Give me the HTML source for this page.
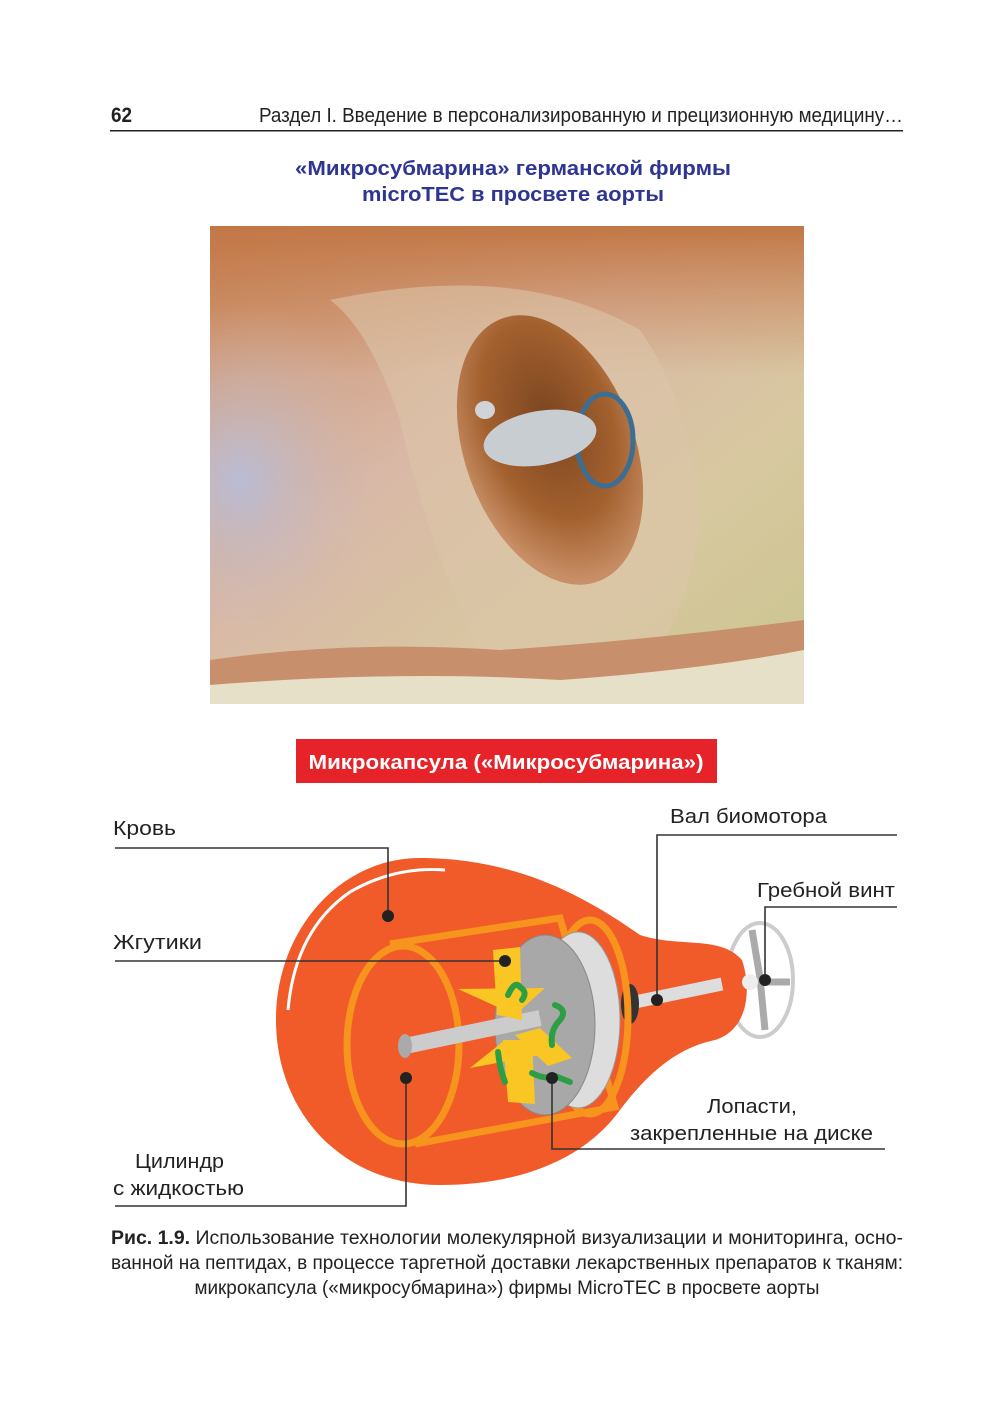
<!DOCTYPE html>
<html><head><meta charset="utf-8"><style>
html,body{margin:0;padding:0;background:#fff}
svg{display:block}
text{font-family:"Liberation Sans",sans-serif}
</style></head><body>
<svg width="1000" height="1420" viewBox="0 0 1000 1420" xmlns="http://www.w3.org/2000/svg">
<defs>
<linearGradient id="bg" x1="0" y1="0" x2="1" y2="1">
<stop offset="0" stop-color="#c98860"/><stop offset="0.4" stop-color="#d9b8a6"/><stop offset="0.7" stop-color="#d8c8a0"/><stop offset="1" stop-color="#c9c48e"/>
</linearGradient>
<linearGradient id="top" x1="0" y1="0" x2="0" y2="1">
<stop offset="0" stop-color="#c27745"/><stop offset="1" stop-color="#c9875a" stop-opacity="0"/>
</linearGradient>
<radialGradient id="left" cx="0.1" cy="0.5" r="0.5">
<stop offset="0" stop-color="#b9bcd6"/><stop offset="1" stop-color="#d4b8aa" stop-opacity="0"/>
</radialGradient>
<radialGradient id="hole" cx="0.55" cy="0.4" r="0.6">
<stop offset="0" stop-color="#7a4520"/><stop offset="0.6" stop-color="#a3602e"/><stop offset="1" stop-color="#c99068"/>
</radialGradient>
</defs>

<!-- header -->
<text x="111" y="122" font-size="21" font-weight="bold" fill="#222" textLength="21" lengthAdjust="spacingAndGlyphs">62</text>
<text x="259" y="122" font-size="20" fill="#222" textLength="644" lengthAdjust="spacingAndGlyphs">Раздел I. Введение в персонализированную и прецизионную медицину…</text>
<rect x="110" y="130" width="793" height="1.5" fill="#222"/>

<text x="513" y="175" font-size="20" font-weight="bold" fill="#2e3592" text-anchor="middle" textLength="436" lengthAdjust="spacingAndGlyphs">«Микросубмарина» германской фирмы</text>
<text x="513" y="201" font-size="20" font-weight="bold" fill="#2e3592" text-anchor="middle" textLength="302" lengthAdjust="spacingAndGlyphs">microTEC в просвете аорты</text>

<!-- photo -->
<g>
<rect x="210" y="226" width="594" height="478" fill="url(#bg)"/>
<rect x="210" y="226" width="594" height="150" fill="url(#top)"/>
<rect x="210" y="300" width="300" height="360" fill="url(#left)"/>
<path d="M330 300 Q520 260 640 330 Q690 400 700 520 Q690 620 630 690 L500 690 Q430 560 400 420 Q370 330 330 300Z" fill="#dcc4a8" opacity="0.6"/>
<ellipse cx="550" cy="450" rx="85" ry="140" transform="rotate(-20 550 450)" fill="url(#hole)"/>
<ellipse cx="605" cy="440" rx="28" ry="46" fill="none" stroke="#3c6e94" stroke-width="5"/>
<ellipse cx="540" cy="438" rx="57" ry="27" transform="rotate(-10 540 438)" fill="#c8cdd2"/>
<ellipse cx="485" cy="410" rx="10" ry="9" fill="#d0d4d8"/>
<path d="M210 660 Q350 640 500 650 Q650 640 804 620 L804 704 L210 704Z" fill="#c88f6c"/>
<path d="M210 685 Q400 670 560 680 Q700 670 804 650 L804 704 L210 704Z" fill="#e6e0c8"/>
</g>

<!-- red title box -->
<rect x="296" y="739" width="421" height="44" fill="#e52329"/>
<text x="506" y="769" font-size="20" font-weight="bold" fill="#fff" text-anchor="middle" textLength="395" lengthAdjust="spacingAndGlyphs">Микрокапсула («Микросубмарина»)</text>

<!-- propeller (behind neck) -->
<ellipse cx="760" cy="980" rx="33" ry="57" fill="none" stroke="#ccc" stroke-width="4"/>
<!-- capsule body -->
<path d="M420 858 C520 858 590 900 640 935 C680 948 720 935 742 960 C752 990 748 1030 715 1040 C680 1047 650 1070 620 1110 C580 1165 510 1185 440 1185 C340 1185 276 1110 276 1020 C276 930 340 858 420 858Z" fill="#f15a29"/>
<path d="M288 1010 Q295 930 350 892 Q395 866 445 870" fill="none" stroke="#fff" stroke-width="3"/>
<path d="M752 930 L760 978 L765 1030" stroke="#aaa" stroke-width="7" fill="none"/>
<path d="M760 982 L790 982" stroke="#aaa" stroke-width="7"/>
<!-- shaft right -->
<path d="M630 1003 L722 984" stroke="#ddd" stroke-width="13"/>
<ellipse cx="630" cy="1004" rx="9" ry="20" fill="#333"/>
<circle cx="750" cy="982" r="8" fill="#eee"/>
<!-- cylinder -->
<path d="M390 944 L560 918 L615 1107 L415 1144" fill="none" stroke="#f7941d" stroke-width="7"/>
<ellipse cx="403" cy="1045" rx="56" ry="99" fill="none" stroke="#f7941d" stroke-width="7"/>
<ellipse cx="590" cy="1017" rx="38" ry="97" fill="none" stroke="#f7941d" stroke-width="7"/>
<!-- disk -->
<ellipse cx="578" cy="1020" rx="42" ry="88" fill="#ddd" stroke="#999"/>
<ellipse cx="545" cy="1025" rx="50" ry="90" fill="#a8a8a8" stroke="#888"/>
<!-- shaft left -->
<path d="M405 1046 L540 1018" stroke="#ccc" stroke-width="16" stroke-linecap="butt"/>
<ellipse cx="405" cy="1046" rx="7" ry="12" fill="#aaa"/>
<!-- blades -->
<polygon points="493,950 520,947 522,1020 497,1015" fill="#f9c623"/>
<polygon points="458,989 545,988 515,1015" fill="#f9c623"/>
<polygon points="470,1068 505,1040 540,1055" fill="#f9c623"/>
<polygon points="503,1040 532,1040 535,1104 508,1102" fill="#f9c623"/>
<polygon points="515,1035 540,1028 572,1058 548,1066" fill="#f9c623"/>
<g fill="none" stroke="#2e9e44" stroke-width="6" stroke-linecap="round">
<path d="M508 995 Q515 980 520 987 Q528 992 522 1000"/>
<path d="M555 1005 Q568 1010 560 1020 Q550 1030 552 1045"/>
<path d="M498 1052 Q500 1070 505 1082"/>
<path d="M532 1073 Q545 1080 555 1076 Q565 1080 570 1082"/>
</g>

<!-- leader lines -->
<g fill="none" stroke="#333" stroke-width="1.6">
<path d="M115 848 H388 V916"/>
<path d="M115 961 H505"/>
<path d="M897 835 H657 V1000"/>
<path d="M897 907 H765 V980"/>
<path d="M885 1149 H552 V1078"/>
<path d="M115 1206 H406 V1078"/>
</g>
<g fill="#222">
<circle cx="388" cy="916" r="6"/><circle cx="505" cy="961" r="6"/><circle cx="657" cy="1000" r="6"/>
<circle cx="765" cy="980" r="6"/><circle cx="552" cy="1078" r="6"/><circle cx="406" cy="1078" r="6"/>
</g>
<g font-size="20" fill="#222" lengthAdjust="spacingAndGlyphs">
<text x="113" y="835" textLength="63" lengthAdjust="spacingAndGlyphs">Кровь</text>
<text x="113" y="949" textLength="89" lengthAdjust="spacingAndGlyphs">Жгутики</text>
<text x="670" y="823" textLength="157" lengthAdjust="spacingAndGlyphs">Вал биомотора</text>
<text x="757" y="897" textLength="138" lengthAdjust="spacingAndGlyphs">Гребной винт</text>
<text x="707" y="1113" textLength="90" lengthAdjust="spacingAndGlyphs">Лопасти,</text>
<text x="630" y="1140" textLength="243" lengthAdjust="spacingAndGlyphs">закрепленные на диске</text>
<text x="135" y="1168" textLength="89" lengthAdjust="spacingAndGlyphs">Цилиндр</text>
<text x="113" y="1195" textLength="131" lengthAdjust="spacingAndGlyphs">с жидкостью</text>
</g>

<!-- caption -->
<g font-size="19" fill="#222">
<text x="111" y="1244" textLength="792" lengthAdjust="spacingAndGlyphs"><tspan font-weight="bold">Рис. 1.9.</tspan> Использование технологии молекулярной визуализации и мониторинга, осно-</text>
<text x="111" y="1269" textLength="792" lengthAdjust="spacingAndGlyphs">ванной на пептидах, в процессе таргетной доставки лекарственных препаратов к тканям:</text>
<text x="507" y="1294" text-anchor="middle" textLength="625" lengthAdjust="spacingAndGlyphs">микрокапсула («микросубмарина») фирмы MicroTEC в просвете аорты</text>
</g>
</svg>
</body></html>
